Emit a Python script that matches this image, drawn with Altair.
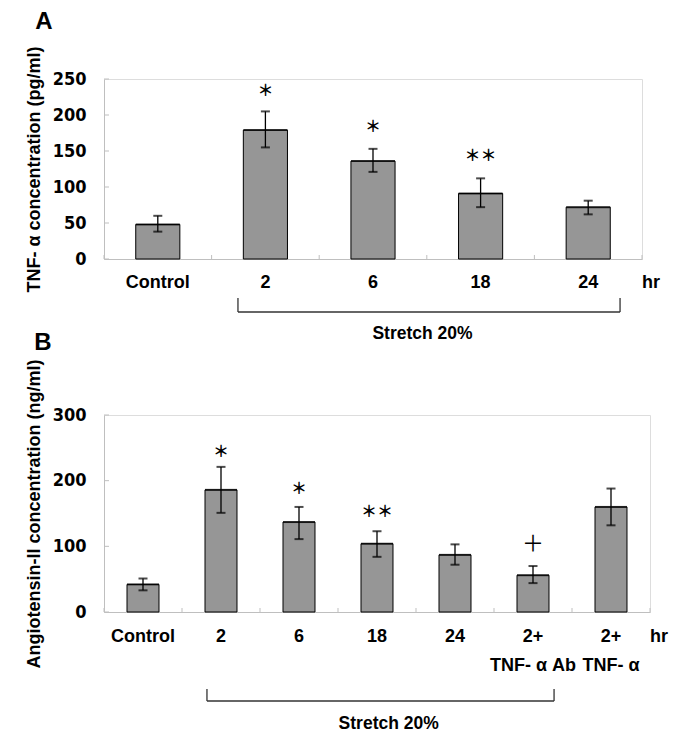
import altair as alt
import pandas as pd

# ---------------- data ----------------
A_cats = ["Control", "2", "6", "18", "24"]
A_mean = [48, 179, 136, 91, 72]
A_lo = [38, 155, 121, 72, 62]
A_hi = [60, 205, 153, 112, 81]
A_sig_cats = ["2", "6", "18"]
A_sig_text = ["＊", "＊", "＊＊"]
A_sig_y = [233, 183, 143]

B_cats = ["Control", "2", "6", "18", "24", "2+|TNF- α Ab", "2+|TNF- α"]
B_mean = [42, 186, 137, 104, 87, 56, 160]
B_lo = [33, 151, 111, 84, 72, 44, 132]
B_hi = [51, 221, 160, 123, 103, 70, 188]
B_sig_cats = ["2", "6", "18", "2+|TNF- α Ab"]
B_sig_text = ["＊", "＊", "＊＊", "＋"]
B_sig_y = [243, 187, 153, 103]

NARROW = "Liberation Sans Narrow, Arial Narrow, DejaVu Sans Condensed, sans-serif"
SANS = "Liberation Sans, Arial, sans-serif"
CJK = "Noto Sans CJK JP"
AXIS_GRAY = "#bfbfbf"
BAR_GRAY = "#969696"


def panel(cats, mean, lo, hi, sig_cats, sig_text, sig_y, ymax, ystep, ytitle,
          W, H, letter, letter_xy, br_start, br_bp0, br_end, br_bp1, br_y,
          st_cat, st_bp, st_y, hr_xy, lab_pad, bar_px):
    df = pd.DataFrame({"cat": cats, "mean": mean, "lo": lo, "hi": hi})
    xs = alt.Scale(type="band", domain=cats, paddingInner=0, paddingOuter=0)
    xaxis = alt.Axis(title=None, labelExpr="split(datum.label, '|')",
                     labelFont=SANS, labelFontSize=18, labelFontWeight="bold",
                     labelColor="black", labelPadding=lab_pad, labelLineHeight=29,
                     labelAngle=0, labelOverlap=False, ticks=False, grid=False,
                     domainColor=AXIS_GRAY, domainWidth=1)

    def X(**kw):
        return alt.X("cat:N", scale=xs, axis=xaxis, **kw)

    ys = alt.Scale(domain=[0, ymax], nice=False)
    yvals = list(range(0, ymax + 1, ystep))
    yaxis = alt.Axis(title=ytitle, values=yvals, labelFont=NARROW, labelFontSize=18,
                     labelFontWeight="bold", labelColor="black", labelPadding=18,
                     ticks=False, grid=False, domainColor=AXIS_GRAY, domainWidth=1,
                     titleFont=SANS, titleFontSize=18, titleFontWeight="bold",
                     titleColor="black", titlePadding=9)

    def Y(f):
        return alt.Y(f"{f}:Q", scale=ys, axis=yaxis)

    base = alt.Chart(df)
    bars = base.mark_bar(width=alt.RelativeBandSize(0.41), color=BAR_GRAY,
                         stroke="black", strokeWidth=1).encode(x=X(), y=Y("mean"))
    tops = base.mark_tick(color="black", thickness=2, size=bar_px).encode(x=X(), y=Y("mean"))
    err = base.mark_rule(color="black", strokeWidth=1.3).encode(
        x=X(), y=Y("lo"), y2=alt.Y2("hi"))
    cap_lo = base.mark_tick(color="black", thickness=2, size=9).encode(x=X(), y=Y("lo"))
    cap_hi = base.mark_tick(color="black", thickness=2, size=9).encode(x=X(), y=Y("hi"))

    # inward axis ticks
    ytk = alt.Chart(pd.DataFrame({"v": yvals})).mark_rule(
        color=AXIS_GRAY, strokeWidth=1).encode(
        y=Y("v"), x=alt.value(0), x2=alt.value(5))
    xtk = alt.Chart(pd.DataFrame({"cat": cats})).mark_rule(
        color=AXIS_GRAY, strokeWidth=1).encode(
        x=X(bandPosition=0), y=alt.value(H), y2=alt.value(H - 4))
    xtk_end = alt.Chart(pd.DataFrame({"cat": cats[-1:]})).mark_rule(
        color=AXIS_GRAY, strokeWidth=1).encode(
        x=X(bandPosition=1), y=alt.value(H), y2=alt.value(H - 4))

    sig_df = pd.DataFrame({"cat": sig_cats, "t": sig_text, "y": sig_y})
    sig = alt.Chart(sig_df).transform_filter("datum.t != '＋'").mark_text(
        font=CJK, fontSize=16, fontWeight="bold", baseline="middle").encode(
        x=X(), y=Y("y"), text="t:N", color=alt.value("black"))
    plus = alt.Chart(sig_df).transform_filter("datum.t == '＋'").mark_text(
        font=CJK, fontSize=22, fontWeight="normal", baseline="middle").encode(
        x=X(), y=Y("y"), text="t:N", color=alt.value("black"))

    # bracket "Stretch 20%"
    b_left = alt.Chart(pd.DataFrame({"cat": [br_start]})).mark_rule(
        color="#333333", strokeWidth=1.3).encode(
        x=X(bandPosition=br_bp0), y=alt.value(br_y[0]), y2=alt.value(br_y[1]))
    b_right = alt.Chart(pd.DataFrame({"cat": [br_end]})).mark_rule(
        color="#333333", strokeWidth=1.3).encode(
        x=X(bandPosition=br_bp1), y=alt.value(br_y[0]), y2=alt.value(br_y[1]))
    b_h = alt.Chart(pd.DataFrame({"cat": [br_start], "cat2": [br_end]})).mark_rule(
        color="#333333", strokeWidth=1.3).encode(
        x=X(bandPosition=br_bp0), x2=alt.X2("cat2", bandPosition=br_bp1),
        y=alt.value(br_y[1]))
    st = alt.Chart(pd.DataFrame({"cat": [st_cat], "t": ["Stretch 20%"]})).mark_text(
        font=SANS, fontSize=17.5, fontWeight="bold", color="black", baseline="middle").encode(
        x=X(bandPosition=st_bp), y=alt.value(st_y), text="t:N")

    one = pd.DataFrame({"t": ["hr"], "l": [letter]})
    hr = alt.Chart(one).mark_text(font=SANS, fontSize=18, fontWeight="bold",
                                  color="black", baseline="middle").encode(
        x=alt.value(hr_xy[0]), y=alt.value(hr_xy[1]), text="t:N")
    let = alt.Chart(one).mark_text(font=SANS, fontSize=24, fontWeight="bold",
                                   color="black", baseline="middle").encode(
        x=alt.value(letter_xy[0]), y=alt.value(letter_xy[1]), text="l:N")

    return alt.layer(bars, tops, err, cap_lo, cap_hi, ytk, xtk, xtk_end, sig, plus,
                     b_left, b_right, b_h, st, hr, let).properties(width=W, height=H)


A = panel(A_cats, A_mean, A_lo, A_hi, A_sig_cats, A_sig_text, A_sig_y, 250, 50,
          "TNF- α concentration (pg/ml)", 538, 180, "A", (-60, -57),
          "2", 0.245, "24", 0.796, (219, 233), "6", 0.96, 255, (547, 204), 14, 44)

B = panel(B_cats, B_mean, B_lo, B_hi, B_sig_cats, B_sig_text, B_sig_y, 300, 100,
          "Angiotensin-II concentration (ng/ml)", 546, 197, "B", (-61, -72),
          "2", 0.32, "2+|TNF- α Ab", 0.77, (274, 286), "18", 0.65, 309, (555, 222), 15, 32)

chart = alt.vconcat(A, B, spacing=156, bounds="flush").properties(
    padding={"left": 16, "top": 1, "right": 5, "bottom": 5}
).configure_view(stroke=None).configure(background="white")

chart.save("out.html", embed_options={"renderer": "svg", "actions": False})
